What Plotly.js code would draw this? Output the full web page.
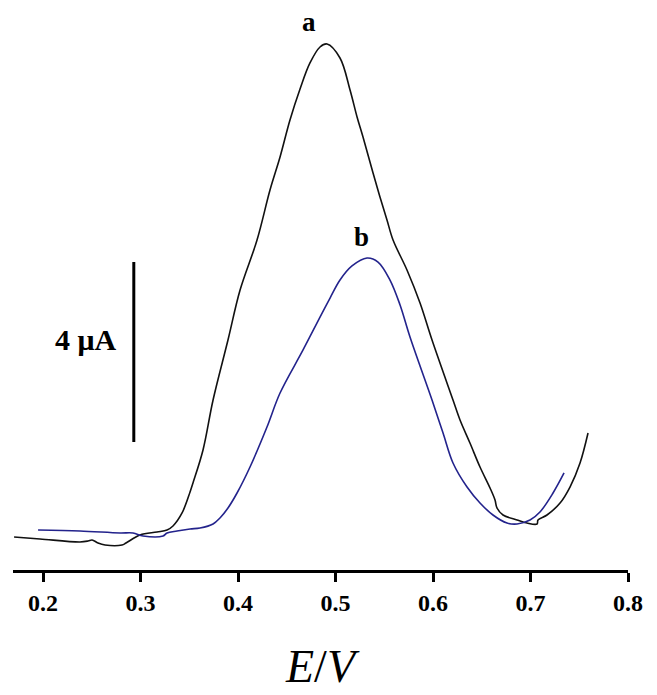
<!DOCTYPE html>
<html>
<head>
<meta charset="utf-8">
<script src="https://cdn.plot.ly/plotly-3.0.1.min.js"></script>
<style>html,body{margin:0;padding:0;background:#fff;}#chart{width:657px;height:695px;}</style>
</head>
<body>
<div id="chart"></div>
<script>
// Curve a (black): potential E (V) and current (µA, arbitrary offset)
const E_a = [0.1703,0.1969,0.2379,0.2462,0.2503,0.2564,0.2636,0.2810,0.2851,0.2995,0.3169,0.3272,0.3333,0.3426,0.3508,0.3538,0.3641,0.3744,0.3897,0.4021,0.4195,0.4328,0.4431,0.4533,0.4636,0.4738,0.4841,0.4913,0.5046,0.5149,0.5221,0.5282,0.5385,0.5456,0.5528,0.5590,0.5733,0.5867,0.5990,0.6205,0.6277,0.6379,0.6482,0.6585,0.6636,0.6656,0.6718,0.6862,0.6964,0.7067,0.7077,0.7169,0.7303,0.7405,0.7508,0.7590];
const I_a = [0.733,0.689,0.622,0.644,0.667,0.600,0.556,0.556,0.600,0.778,0.844,0.889,0.978,1.267,1.733,1.933,2.667,3.778,5.111,6.222,7.333,8.444,9.178,10.000,10.689,11.267,11.622,11.689,11.378,10.667,10.067,9.622,8.822,8.289,7.778,7.333,6.667,5.933,5.111,3.778,3.333,2.822,2.289,1.822,1.556,1.378,1.222,1.111,1.044,1.022,1.111,1.222,1.489,1.844,2.378,3.044];
// Curve b (blue)
const E_b = [0.1949,0.2379,0.2790,0.2923,0.3026,0.3231,0.3272,0.3374,0.3508,0.3610,0.3744,0.3815,0.3897,0.3990,0.4123,0.4297,0.4431,0.4667,0.4841,0.4944,0.5046,0.5169,0.5323,0.5436,0.5559,0.5662,0.5764,0.5990,0.6103,0.6205,0.6349,0.6482,0.6615,0.6759,0.6862,0.6995,0.7097,0.7231,0.7344];
const I_b = [0.889,0.867,0.822,0.822,0.756,0.756,0.822,0.867,0.911,0.933,1.022,1.156,1.378,1.711,2.289,3.178,3.933,4.889,5.622,6.044,6.444,6.756,6.933,6.844,6.444,5.889,5.178,3.778,3.044,2.378,1.844,1.489,1.222,1.044,1.022,1.111,1.289,1.711,2.156];
const tickVals = [0.2,0.3,0.4,0.5,0.6,0.7,0.8];
const tickText = ['0.2','0.3','0.4','0.5','0.6','0.7','0.8'];
const curveLabels = ['a','b'];
// Scale bar: 4 µA
const scaleBarE = 0.2931;
const scaleBarFrom = 2.844;
const scaleBarSize = 4;
const scaleBarText = '4 μA';

const serif = '"Liberation Serif", "Times New Roman", serif';

const traces = [
  {x:E_a, y:I_a, mode:'lines', line:{color:'#111111', width:1.6, shape:'spline', smoothing:1}, hoverinfo:'skip'},
  {x:E_b, y:I_b, mode:'lines', line:{color:'#23238c', width:1.6, shape:'spline', smoothing:1}, hoverinfo:'skip'}
];

function peakIdx(arr){let m=0;for(let i=1;i<arr.length;i++) if(arr[i]>arr[m]) m=i;return m;}
const pa = peakIdx(I_a), pb = peakIdx(I_b);

const layout = {
  width:657, height:695,
  margin:{l:13, r:29, t:20, b:125},
  paper_bgcolor:'#fff', plot_bgcolor:'#fff',
  showlegend:false,
  xaxis:{
    range:[0.1692,0.8], showgrid:false, zeroline:false,
    showline:true, linewidth:3, linecolor:'#000',
    ticks:'outside', ticklen:9, tickwidth:3, tickcolor:'#000',
    tickvals:tickVals, ticktext:tickText,
    tickfont:{family:serif, size:24, color:'#000', weight:'bold'},
    title:{text:'<i>E</i>/<i>V</i>', font:{family:serif, size:46, color:'#000'}, standoff:36},
    automargin:false
  },
  yaxis:{range:[0,12.222], visible:false, showgrid:false, zeroline:false},
  shapes:[
    {type:'line', xref:'x', yref:'y', x0:scaleBarE, x1:scaleBarE, y0:scaleBarFrom, y1:scaleBarFrom+scaleBarSize, line:{color:'#000', width:3}}
  ],
  annotations:[
    {x:E_a[pa]-0.019, y:I_a[pa], xref:'x', yref:'y', text:'<b>'+curveLabels[0]+'</b>', showarrow:false, yanchor:'bottom', yshift:5, font:{family:serif, size:27, color:'#000'}},
    {x:E_b[pb]-0.006, y:I_b[pb], xref:'x', yref:'y', text:'<b>'+curveLabels[1]+'</b>', showarrow:false, yanchor:'bottom', yshift:4, font:{family:serif, size:27, color:'#000'}},
    {x:scaleBarE, y:scaleBarFrom+scaleBarSize/2, xref:'x', yref:'y', text:'<b>'+scaleBarText+'</b>', showarrow:false, xanchor:'right', xshift:-15, yshift:13, font:{family:serif, size:30, color:'#000'}}
  ]
};

Plotly.newPlot('chart', traces, layout, {staticPlot:true, displayModeBar:false});
</script>
</body>
</html>
